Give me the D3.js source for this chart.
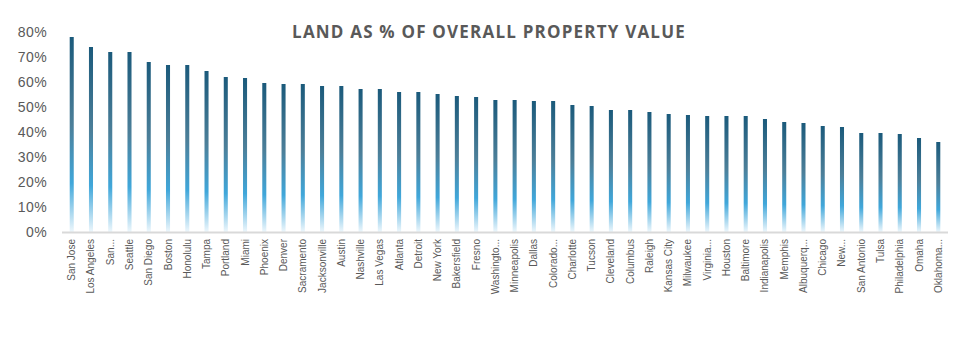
<!DOCTYPE html>
<html>
<head>
    <meta charset="utf-8">
    <style>
        body {
            margin: 0;
            background: #ffffff;
            font-family: 'Open Sans', Arial, sans-serif;
        }

        .title {
            font-size: 17px;
            font-weight: 700;
            fill: #595959;
            letter-spacing: 1.2px;
        }

        .y-label {
            font-size: 14px;
            fill: #595959;
            letter-spacing: 0.4px;
        }

        .x-label {
            font-size: 10px;
            fill: #595959;
        }
    </style>
</head>
<body>
    <svg width="974" height="342"></svg>

<script src="https://d3js.org/d3.v7.min.js"></script>
<script>
    // city names as they appear (truncated ones too)
    let cities = ["San Jose", "Los Angeles", "San...", "Seattle", "San Diego", "Boston", "Honolulu",
        "Tampa", "Portland", "Miami", "Phoenix", "Denver", "Sacramento", "Jacksonville", "Austin",
        "Nashville", "Las Vegas", "Atlanta", "Detroit", "New York", "Bakersfield", "Fresno",
        "Washingto...", "Minneapolis", "Dallas", "Colorado...", "Charlotte", "Tucson", "Cleveland",
        "Columbus", "Raleigh", "Kansas City", "Milwaukee", "Virginia...", "Houston", "Baltimore",
        "Indianapolis", "Memphis", "Albuquerq...", "Chicago", "New...", "San Antonio", "Tulsa",
        "Philadelphia", "Omaha", "Oklahoma..."];

    // land share, %
    let landShare = [78, 74, 72, 72, 68, 66.8, 66.8,
        64.4, 62, 61.6, 59.6, 59.2, 59.2, 58.4, 58.4,
        57.2, 57.2, 56, 56, 55.2, 54.4, 54,
        52.8, 52.8, 52.4, 52.4, 50.8, 50.4, 48.8,
        48.8, 48, 47.2, 46.8, 46.4, 46.4, 46.4,
        45.2, 44, 43.6, 42.4, 42, 39.6, 39.6,
        39.2, 37.6, 36];

    let yTicks = [0, 10, 20, 30, 40, 50, 60, 70, 80];

    let margin = { top: 32, left: 62, right: 26, bottom: 110 };
    let width = 974 - margin.left - margin.right;
    let height = 342 - margin.top - margin.bottom;

    let svg = d3.select("svg");

    let data = cities.map((c, i) => ({ city: c, value: landShare[i] }));

    // gradient like the excel fill: dark teal on top, bright blue low, fading out at base
    let grad = svg.append("defs")
        .append("linearGradient")
        .attr("id", "barFill")
        .attr("x1", 0).attr("y1", 0)
        .attr("x2", 0).attr("y2", 1);

    grad.append("stop").attr("offset", "0%").attr("stop-color", "#1b5a7b");
    grad.append("stop").attr("offset", "45%").attr("stop-color", "#4c7f99");
    grad.append("stop").attr("offset", "75%").attr("stop-color", "#40a7da");
    grad.append("stop").attr("offset", "100%").attr("stop-color", "#eef7fc");

    let g = svg.append("g")
        .attr("transform", "translate(" + margin.left + "," + margin.top + ")");

    let x = d3.scaleBand()
        .domain(cities)
        .range([0, width])
        .paddingInner(0.79)
        .paddingOuter(0.4);

    let y = d3.scaleLinear()
        .domain([0, 80])
        .range([height, 0]);

    // y axis labels, no line
    let yAxis = g.append("g")
        .call(d3.axisLeft(y)
            .tickValues(yTicks)
            .tickSize(0)
            .tickPadding(15)
            .tickFormat(d => d + "%"));

    yAxis.select(".domain").remove();
    yAxis.selectAll("text")
        .attr("class", "y-label")
        .attr("font-family", null)
        .attr("font-size", null);

    g.selectAll(".bar")
        .data(data)
        .join("rect")
        .attr("class", "bar")
        .attr("x", d => x(d.city))
        .attr("y", d => y(d.value))
        .attr("width", x.bandwidth())
        .attr("height", d => height - y(d.value))
        .style("fill", "url(#barFill)");

    // baseline
    g.append("line")
        .attr("x1", 0)
        .attr("x2", width)
        .attr("y1", height + 0.5)
        .attr("y2", height + 0.5)
        .style("stroke", "#d9d9d9")
        .style("stroke-width", 2);

    let xAxis = g.append("g")
        .attr("transform", "translate(0," + height + ")")
        .call(d3.axisBottom(x).tickSize(0).tickPadding(0));

    xAxis.select(".domain").remove();
    xAxis.selectAll("text")
        .attr("class", "x-label")
        .attr("font-family", null)
        .attr("font-size", null)
        .attr("transform", "rotate(-90)")
        .attr("x", -7)
        .attr("y", 0)
        .attr("dy", "0.35em")
        .style("text-anchor", "end");

    svg.append("text")
        .attr("class", "title")
        .attr("x", 489)
        .attr("y", 38)
        .attr("text-anchor", "middle")
        .text("LAND AS % OF OVERALL PROPERTY VALUE");
</script>
</body>
</html>
